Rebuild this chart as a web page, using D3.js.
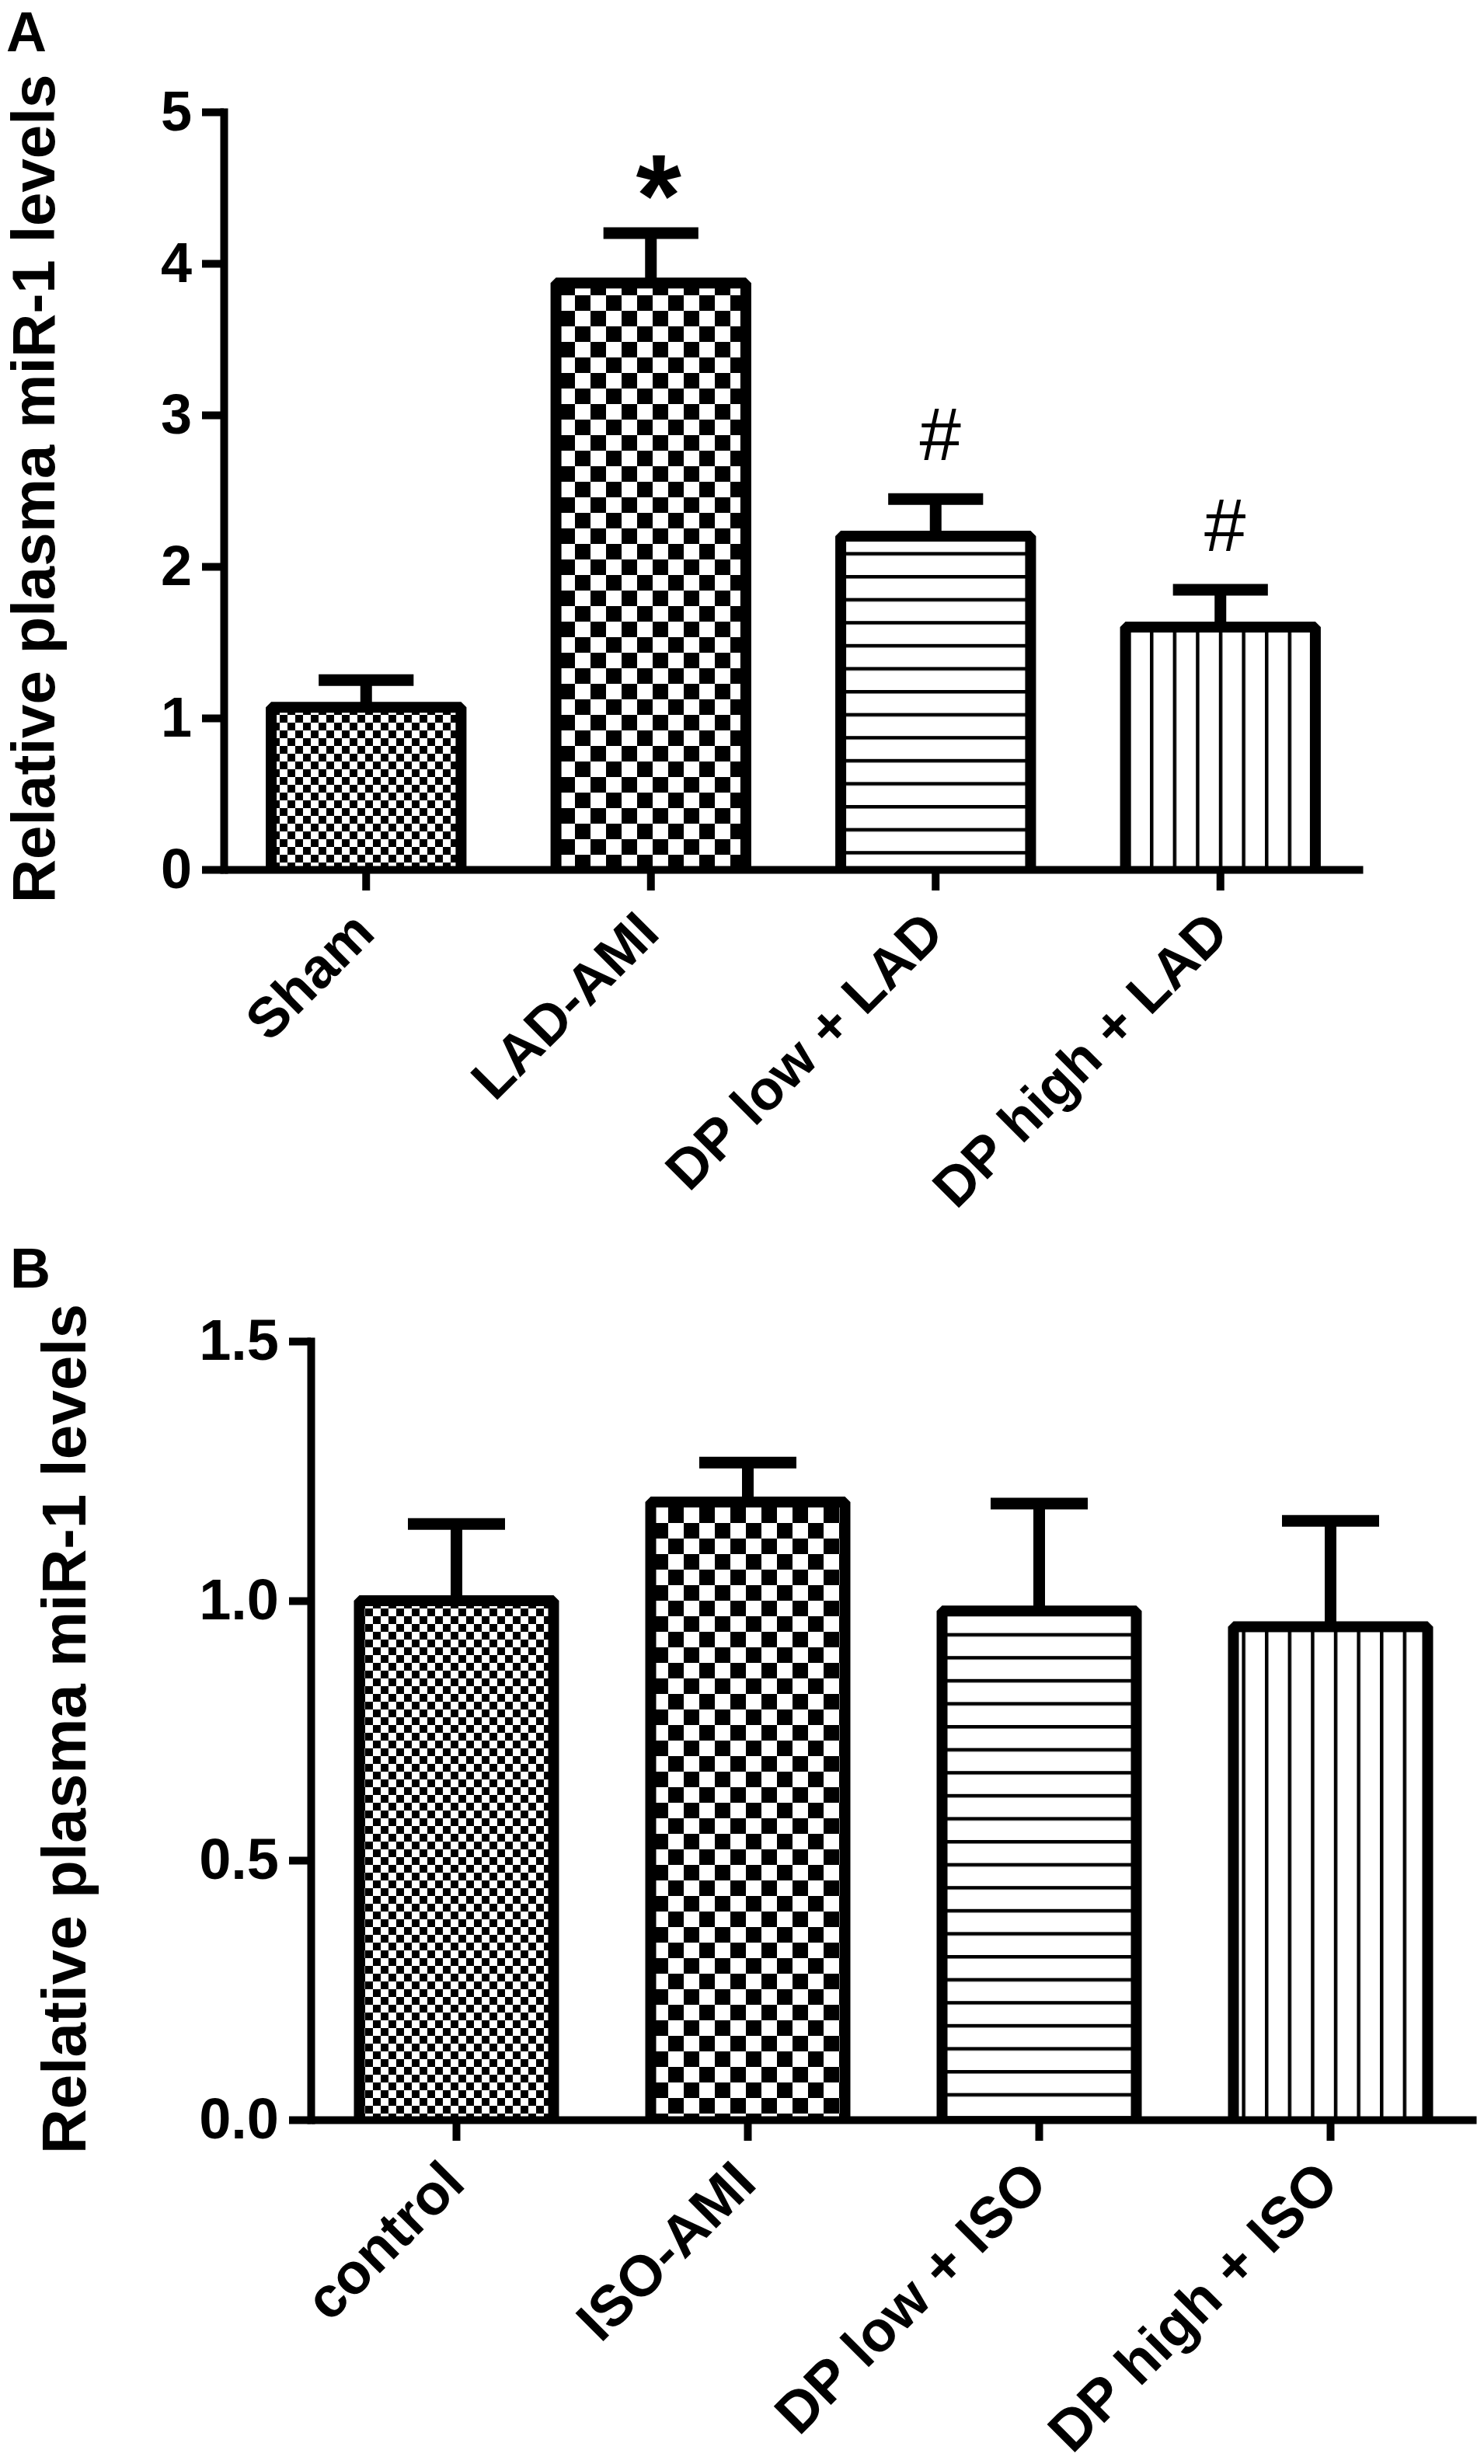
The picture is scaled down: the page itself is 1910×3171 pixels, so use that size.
<!DOCTYPE html>
<html><head><meta charset="utf-8">
<script src="https://cdn.jsdelivr.net/npm/d3@7"></script>
<style>body{margin:0;background:#fff}svg{display:block}</style>
</head><body>
<script>
// ---- Panel A data ----
const categoriesA = ["Sham", "LAD-AMI", "DP low + LAD", "DP high + LAD"];
const meansA = [1.07, 3.87, 2.20, 1.60];
const errorsA = [0.18, 0.33, 0.245, 0.246];
const marksA = ["", "*", "#", "#"];
const ticksA = [0, 1, 2, 3, 4, 5];
const tickLabelsA = ["0", "1", "2", "3", "4", "5"];

// ---- Panel B data ----
const categoriesB = ["control", "ISO-AMI", "DP low + ISO", "DP high + ISO"];
const meansB = [1.00, 1.19, 0.98, 0.95];
const errorsB = [0.148, 0.076, 0.207, 0.204];
const marksB = ["", "", "", ""];
const ticksB = [0, 0.5, 1.0, 1.5];
const tickLabelsB = ["0.0", "0.5", "1.0", "1.5"];

const patterns = ["checkFine", "checkCoarse", "hlines", "vlines"];
const yTitle = "Relative plasma miR-1 levels";

const W = 1910, H = 3171;
const FONT = "'Liberation Sans', Arial, Helvetica, sans-serif";
const svg = d3.select("body").append("svg").attr("width", W).attr("height", H);
svg.append("rect").attr("width", W).attr("height", H).attr("fill", "#fff");
const defs = svg.append("defs");

function checker(id, a) {
  const p = defs.append("pattern").attr("id", id).attr("patternUnits", "userSpaceOnUse")
    .attr("width", 2 * a).attr("height", 2 * a);
  p.append("rect").attr("width", 2 * a).attr("height", 2 * a).attr("fill", "#fff");
  p.append("rect").attr("width", a).attr("height", a).attr("fill", "#000");
  p.append("rect").attr("x", a).attr("y", a).attr("width", a).attr("height", a).attr("fill", "#000");
}
checker("checkFine", 10);
checker("checkCoarse", 20);
(function () {
  const sp = 29.6, th = 4.5;
  const h = defs.append("pattern").attr("id", "hlines").attr("patternUnits", "userSpaceOnUse")
    .attr("width", 20).attr("height", sp);
  h.append("rect").attr("width", 20).attr("height", sp).attr("fill", "#fff");
  h.append("rect").attr("width", 20).attr("height", th).attr("fill", "#000");
  const v = defs.append("pattern").attr("id", "vlines").attr("patternUnits", "userSpaceOnUse")
    .attr("width", sp).attr("height", 20);
  v.append("rect").attr("width", sp).attr("height", 20).attr("fill", "#fff");
  v.append("rect").attr("width", th).attr("height", 20).attr("fill", "#000");
})();

function panel(cfg) {
  const g = svg.append("g");
  const y = d3.scaleLinear().domain([0, cfg.ymax]).range([cfg.yZero, cfg.yTop]);
  const x = d3.scaleBand().domain(cfg.cats).range([cfg.x0, cfg.x1]).padding(0);
  const bw = x.bandwidth();
  const barW = bw * 2 / 3;

  // bars
  cfg.cats.forEach((c, i) => {
    const l = x(c) + (bw - barW) / 2, r = l + barW;
    const top = y(cfg.means[i]);
    g.append("path")
      .attr("d", `M${l},${y(0)}V${top}H${r}V${y(0)}`)
      .attr("fill", `url(#${patterns[i]})`)
      .attr("stroke", "#000").attr("stroke-width", 14)
      .attr("stroke-linejoin", "bevel");
  });
  // error bars
  cfg.cats.forEach((c, i) => {
    const cx = x(c) + bw / 2;
    const yt = y(cfg.means[i] + cfg.errs[i]);
    g.append("line").attr("x1", cx).attr("x2", cx).attr("y1", y(cfg.means[i])).attr("y2", yt)
      .attr("stroke", "#000").attr("stroke-width", 15);
    g.append("line").attr("x1", cx - bw / 6).attr("x2", cx + bw / 6).attr("y1", yt).attr("y2", yt)
      .attr("stroke", "#000").attr("stroke-width", 15);
    const m = cfg.marks[i];
    if (m) {
      const t = g.append("text").attr("text-anchor", "middle").attr("fill", "#000")
        .style("font-family", FONT).text(m);
      if (m === "*") {
        t.attr("x", cx + 10).attr("y", yt + 4).style("font-size", "150px").style("font-weight", "bold");
      } else {
        t.attr("x", cx + 6).attr("y", yt - 50).style("font-size", "96px").style("font-weight", "normal");
      }
    }
  });

  // y axis
  const ya = g.append("g").attr("transform", `translate(${cfg.x0},0)`)
    .call(d3.axisLeft(y).tickValues(cfg.ticks).tickFormat((d, i) => cfg.tickLabels[i])
      .tickSizeInner(28).tickSizeOuter(0).tickPadding(13));
  ya.attr("font-family", null);
  ya.select(".domain").attr("stroke-width", 10).attr("stroke-linecap", "square");
  ya.selectAll(".tick line").attr("stroke-width", 10);
  ya.selectAll(".tick text").style("font-family", FONT).style("font-weight", "bold")
    .style("font-size", cfg.tickFont + "px").attr("fill", "#000");

  // x axis
  const xa = g.append("g").attr("transform", `translate(0,${cfg.yZero})`)
    .call(d3.axisBottom(x).tickSizeInner(27).tickSizeOuter(0).tickFormat(""));
  xa.select(".domain").attr("stroke-width", 10);
  xa.selectAll(".tick line").attr("stroke-width", 10);

  // rotated category labels
  cfg.cats.forEach((c) => {
    const cx = x(c) + bw / 2;
    g.append("text")
      .attr("transform", `translate(${cx + 14},${cfg.yZero + 85}) rotate(-45)`)
      .attr("text-anchor", "end").attr("fill", "#000")
      .style("font-family", FONT).style("font-weight", "bold")
      .style("font-size", cfg.catFont + "px").text(c);
  });

  // y title
  g.append("text")
    .attr("transform", `translate(${cfg.titleX},${cfg.titleY}) rotate(-90)`)
    .attr("text-anchor", "middle").attr("fill", "#000")
    .style("font-family", FONT).style("font-weight", "bold")
    .style("font-size", cfg.titleFont + "px").text(yTitle);

  // panel letter
  g.append("text").attr("x", cfg.letterX).attr("y", cfg.letterY).attr("fill", "#000")
    .style("font-family", FONT).style("font-weight", "bold").style("font-size", "72px")
    .text(cfg.letter);
}

panel({
  cats: categoriesA, means: meansA, errs: errorsA, marks: marksA,
  ticks: ticksA, tickLabels: tickLabelsA, ymax: 5,
  x0: 288, x1: 1754, yZero: 1119, yTop: 144,
  tickFont: 72, catFont: 72, titleFont: 78, titleX: 70, titleY: 629,
  letter: "A", letterX: 8, letterY: 66
});
panel({
  cats: categoriesB, means: meansB, errs: errorsB, marks: marksB,
  ticks: ticksB, tickLabels: tickLabelsB, ymax: 1.5,
  x0: 400, x1: 1900, yZero: 2728, yTop: 1726,
  tickFont: 74, catFont: 74, titleFont: 80, titleX: 110, titleY: 2225,
  letter: "B", letterX: 13, letterY: 1657
});
</script>
</body></html>
